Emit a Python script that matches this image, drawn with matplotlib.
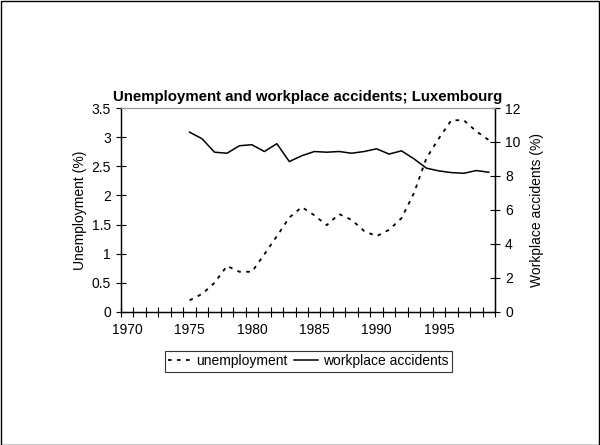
import matplotlib
matplotlib.use('Agg')
import matplotlib.pyplot as plt
from matplotlib.patches import Rectangle

plt.rcParams['font.family'] = ['Liberation Sans', 'DejaVu Sans']

years = list(range(1975, 2000))
unemployment = [0.20, 0.31, 0.50, 0.79, 0.69, 0.69, 0.99, 1.30, 1.62, 1.80,
                1.66, 1.49, 1.68, 1.58, 1.39, 1.30, 1.41, 1.61, 2.04, 2.64,
                2.98, 3.29, 3.29, 3.10, 2.95]
accidents = [10.58, 10.19, 9.40, 9.34, 9.78, 9.84, 9.44, 9.90, 8.85, 9.19,
             9.44, 9.40, 9.44, 9.34, 9.44, 9.60, 9.29, 9.48, 9.01, 8.46,
             8.30, 8.20, 8.16, 8.32, 8.22]
year_labels = [1970, 1975, 1980, 1985, 1990, 1995]

fig = plt.figure(figsize=(6, 4.45), dpi=100)
fig.patches.append(Rectangle((0.001, 0.001), 0.997, 0.996, transform=fig.transFigure,
                             fill=False, edgecolor='black', linewidth=1))
ax = fig.add_axes([0.2017, 0.2989, 0.6233, 0.4584])
ax2 = ax.twinx()

l1, = ax.plot(years, unemployment, color='black', lw=1.3, dashes=(2, 3), label='unemployment')
l2, = ax2.plot(years, accidents, color='black', lw=1.1, label='workplace accidents')

ax.set_xlim(1969.5, 1999.5)
ax.set_ylim(0, 3.5)
ax2.set_ylim(0, 12)
ax.set_yticks([0, 0.5, 1, 1.5, 2, 2.5, 3, 3.5])
ax.set_yticklabels(['0', '0.5', '1', '1.5', '2', '2.5', '3', '3.5'])
ax2.set_yticks([0, 2, 4, 6, 8, 10, 12])
ax.set_xticks(year_labels)
ax.set_xticks([y - 0.5 for y in range(1970, 2001)], minor=True)
ax.tick_params(axis='x', which='major', length=0, pad=8, labelsize=10)
ax.tick_params(axis='x', which='minor', direction='inout', length=6.5, width=0.8)
ax.tick_params(axis='y', direction='inout', length=6.5, width=0.8, labelsize=10, pad=4)
ax2.tick_params(axis='y', direction='inout', length=6.5, width=0.8, labelsize=10, pad=4)

for a in (ax, ax2):
    a.spines['top'].set_color('#999999')
    a.spines['left'].set_linewidth(0.9)
    a.spines['right'].set_linewidth(0.9)
    a.spines['bottom'].set_linewidth(0.9)

ax.set_ylabel('Unemployment (%)', fontsize=10, labelpad=3)
ax2.set_ylabel('Workplace accidents (%)', fontsize=10, labelpad=7)
ax.set_title('Unemployment and workplace accidents; Luxembourg',
             fontsize=10.8, fontweight='bold', pad=5)

leg = ax.legend(handles=[l1, l2], loc='upper center', bbox_to_anchor=(0.5, -0.19),
                ncol=2, frameon=True, fancybox=False, fontsize=10,
                handlelength=1.7, handletextpad=0.35, columnspacing=0.45,
                borderpad=0.25, borderaxespad=0)
leg.get_frame().set_edgecolor('black')
leg.get_frame().set_linewidth(0.8)

fig.savefig('out.png', dpi=100)
